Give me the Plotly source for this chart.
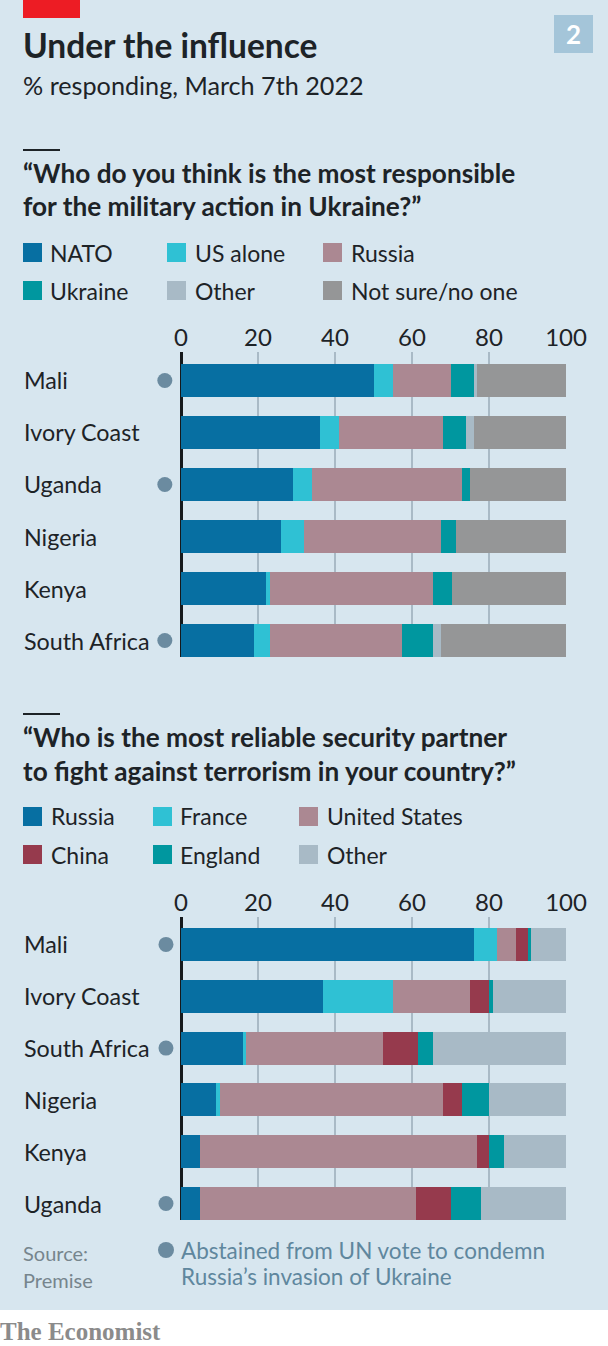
import plotly.graph_objects as go

W, H = 608, 1346
BOLD = "Lato"
FONT = "Lato"
INK = "#1d2327"
PANEL = "#d7e6ef"

# ---------- data ----------
title = "Under the influence"
subtitle = "% responding, March 7th 2022"
q1_lines = ["“Who do you think is the most responsible", "for the military action in Ukraine?”"]
q2_lines = ["“Who is the most reliable security partner", "to fight against terrorism in your country?”"]

top_countries = ["Mali", "Ivory Coast", "Uganda", "Nigeria", "Kenya", "South Africa"]
top_abstained = ["Mali", "Uganda", "South Africa"]
top_nato = [50, 36, 29, 26, 22, 19]
top_us = [5, 5, 5, 6, 1, 4]
top_russia = [15, 27, 39, 35.5, 42.5, 34.5]
top_ukraine = [6, 6, 2, 4, 5, 8]
top_other = [1, 2, 0, 0, 0, 2]
top_notsure = [23, 24, 25, 28.5, 29.5, 32.5]

bot_countries = ["Mali", "Ivory Coast", "South Africa", "Nigeria", "Kenya", "Uganda"]
bot_abstained = ["Mali", "South Africa", "Uganda"]
bot_russia = [76, 37, 16, 9, 5, 5]
bot_france = [6, 18, 1, 1, 0, 0]
bot_us = [5, 20, 35.5, 58, 72, 56]
bot_china = [3, 5, 9, 5, 3, 9]
bot_england = [1, 1, 4, 7, 4, 8]
bot_other = [9, 19, 34.5, 20, 16, 22]

ticks = [0, 20, 40, 60, 80, 100]

BLUE, CYAN, MAUVE, TEAL, SLATE, GREY, WINE = (
    "#076fa2", "#2fc1d4", "#ab8892", "#00979f", "#a8bac6", "#959697", "#963a4d")

top_series = [("NATO", top_nato, BLUE), ("US alone", top_us, CYAN), ("Russia", top_russia, MAUVE),
              ("Ukraine", top_ukraine, TEAL), ("Other", top_other, SLATE), ("Not sure/no one", top_notsure, GREY)]
bot_series = [("Russia", bot_russia, BLUE), ("France", bot_france, CYAN), ("United States", bot_us, MAUVE),
              ("China", bot_china, WINE), ("England", bot_england, TEAL), ("Other", bot_other, SLATE)]


def px(x):
    return x / W


def py(y):
    return 1 - y / H


fig = go.Figure()
annotations, shapes = [], []


def text(x, y, s, size, color=INK, bold=False, family=FONT, anchor="left"):
    annotations.append(dict(
        x=px(x), y=py(y), xref="paper", yref="paper", text=f"<b>{s}</b>" if bold else s,
        showarrow=False, xanchor=anchor, yanchor="middle", borderpad=0, borderwidth=0,
        font=dict(family=family, size=size, color=color)))


def rect(x0, y0, x1, y1, color):
    shapes.append(dict(type="rect", xref="paper", yref="paper", x0=px(x0), x1=px(x1),
                       y0=py(y0), y1=py(y1), fillcolor=color, line_width=0, layer="below"))


def add_chart(series, countries, abstained, xa, ya, dot_x):
    for name, vals, color in series:
        fig.add_trace(go.Bar(y=countries, x=vals, name=name, orientation="h", marker=dict(color=color, line_width=0),
                             width=0.635, xaxis=xa, yaxis=ya, showlegend=False))
    fig.add_trace(go.Scatter(x=[dot_x] * len(abstained), y=abstained, mode="markers", cliponaxis=False,
                             marker=dict(color="#6b8ba0", size=15), xaxis=xa, yaxis=ya, showlegend=False))
    for i, c in enumerate(countries):
        annotations.append(dict(x=px(23), y=i, xref="paper", yref=ya, text=c, showarrow=False,
                                xanchor="left", yanchor="middle", borderpad=0,
                                font=dict(family=FONT, size=23.3, color=INK)))


def add_legend(series, cols, text_cols, rows):
    for k, (name, _, color) in enumerate(series):
        r, c = divmod(k, 3)
        rect(cols[c], rows[r], cols[c] + 19, rows[r] + 19, color)
        text(text_cols[c], rows[r] + 9.5, name, 23)


add_chart(top_series, top_countries, top_abstained, "x", "y", -4.2)
add_chart(bot_series, bot_countries, bot_abstained, "x2", "y2", -3.9)

# ---------- furniture ----------
rect(0, 0, W, 1310, PANEL)
rect(23, 0, 80, 18, "#ed1c24")
rect(554, 15, 593, 53, "#a4c5d9")
text(573.5, 34, "2", 26, "#ffffff", True, BOLD, anchor="center")
text(23, 45, title, 33.5, INK, True, BOLD)
text(23, 85, subtitle, 25.2)

rect(23, 149, 60, 151, INK)
text(23, 173, q1_lines[0], 26.2, INK, True, BOLD)
text(23, 206, q1_lines[1], 26.2, INK, True, BOLD)
add_legend(top_series, [23, 167, 323], [50, 195, 351], [243, 281])

rect(23, 713, 60, 715, INK)
text(23, 737, q2_lines[0], 26.2, INK, True, BOLD)
text(23, 771, q2_lines[1], 26.2, INK, True, BOLD)
add_legend(bot_series, [23, 153, 299], [51, 180, 327], [807, 845])

text(23, 1253, "Source:", 20, "#76858d")
text(23, 1280, "Premise", 20, "#76858d")
shapes.append(dict(type="circle", xref="paper", yref="paper", x0=px(158), x1=px(174), y0=py(1242), y1=py(1258),
                   fillcolor="#6b8ba0", line_width=0))
text(181, 1250, "Abstained from UN vote to condemn", 22.5, "#5f879e")
text(181, 1276, "Russia’s invasion of Ukraine", 22.5, "#5f879e")
text(0, 1331, "The Economist", 25, "#8b8b8b", True, "Liberation Serif")

X_MIN = -5


def x_axis(anchor):
    return dict(domain=[px(181 + X_MIN * 3.85), px(566)], range=[X_MIN, 100], side="top", anchor=anchor, tickvals=ticks,
                ticks="", showgrid=True, gridcolor="#a9bac6", gridwidth=1.5, zeroline=True, zerolinecolor="#15191c",
                zerolinewidth=3, showline=False,
                tickfont=dict(family=FONT, size=24, color=INK), fixedrange=True)


def y_axis(anchor, top_px, bottom_px, lo, hi):
    return dict(domain=[py(bottom_px), py(top_px)], range=[lo, hi], type="category", anchor=anchor,
                showticklabels=False, ticks="", showgrid=False, zeroline=False,
                showline=False, fixedrange=True)


fig.update_layout(
    width=W, height=H, autosize=False, margin=dict(l=0, r=0, t=0, b=0, pad=0, autoexpand=False), barmode="stack",
    bargap=0.365, paper_bgcolor="#ffffff", plot_bgcolor="rgba(0,0,0,0)", showlegend=False,
    font=dict(family=FONT, color=INK),
    xaxis=x_axis("y"), yaxis=y_axis("x", 352, 657, 5.317, -0.548),
    xaxis2=x_axis("y2"), yaxis2=y_axis("x2", 917, 1220, 5.317, -0.529),
    annotations=annotations, shapes=shapes,
)

js = "var s=document.createElement('style');s.textContent='html,body{margin:0!important;padding:0!important}';document.head.appendChild(s);"
fig.write_html("out.html", config={"displayModeBar": False}, post_script=js)
